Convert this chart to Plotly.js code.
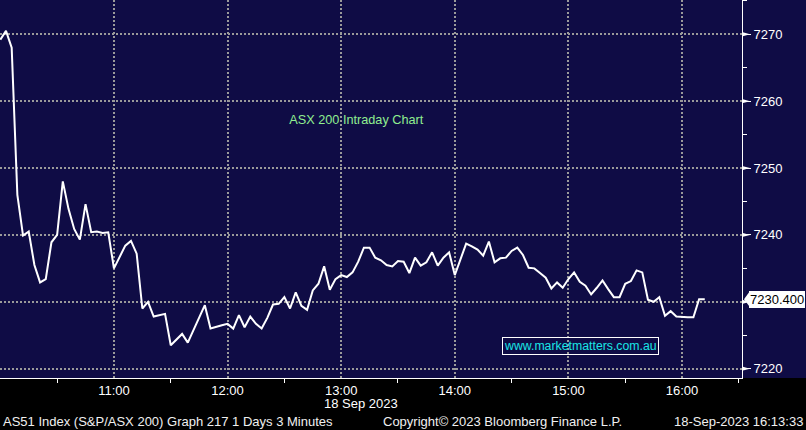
<!DOCTYPE html>
<html>
<head>
<meta charset="utf-8">
<script src="https://cdn.plot.ly/plotly-3.0.1.min.js"></script>
<style>html,body{margin:0;padding:0;background:#000;}#chart{width:806px;height:430px;}</style>
</head>
<body>
<div id="chart"></div>
<script>
// ---- data ----
const sessionDate = "2023-09-18";
const startTime = "10:00";
const barMinutes = 3;
const closeValues = [
  7269.2, 7270.5, 7268.0, 7246.0, 7239.9, 7240.5, 7235.5, 7232.9, 7233.4, 7238.9,
  7240.0, 7248.0, 7243.9, 7240.9, 7239.3, 7244.6, 7240.4, 7240.5, 7240.3, 7240.4,
  7235.0, 7236.8, 7238.4, 7239.1, 7237.2, 7229.0, 7230.0, 7227.8, 7228.0, 7228.2,
  7223.5, 7224.3, 7225.2, 7223.9, 7225.8, 7227.8, 7229.5, 7226.0, 7226.3, 7226.5,
  7226.7, 7226.0, 7228.0, 7226.2, 7227.8, 7226.7, 7226.0, 7227.6, 7229.6, 7229.7,
  7230.7, 7229.0, 7231.4, 7229.4, 7228.8, 7231.7, 7232.7, 7235.3, 7231.8, 7233.4,
  7234.0, 7233.7, 7234.4, 7236.0, 7238.1, 7238.1, 7236.6, 7236.2, 7235.5, 7235.3,
  7236.1, 7236.0, 7234.3, 7236.6, 7235.4, 7235.9, 7237.4, 7235.4, 7236.6, 7237.4,
  7234.0, 7236.5, 7238.7, 7238.3, 7237.8, 7236.9, 7239.0, 7235.9, 7236.5, 7236.6,
  7237.6, 7238.1, 7237.0, 7235.1, 7235.0, 7234.3, 7233.6, 7232.0, 7232.9, 7232.1,
  7233.4, 7234.4, 7233.0, 7232.4, 7231.1, 7232.1, 7233.2, 7231.9, 7230.7, 7230.7,
  7232.7, 7233.1, 7234.7, 7234.4, 7230.3, 7230.0, 7230.7, 7227.9, 7228.6, 7227.8,
  7227.7, 7227.7, 7227.7, 7230.4, 7230.4
];
const lastValueText = "7230.400";
const hourTicks = ["10:00", "11:00", "12:00", "13:00", "14:00", "15:00", "16:00"];
const hourLabels = ["", "11:00", "12:00", "13:00", "14:00", "15:00", "16:00"];
const halfHourTicks = ["10:30", "11:30", "12:30", "13:30", "14:30", "15:30", "16:30"];
const yTicks = [7220, 7230, 7240, 7250, 7260, 7270];
const yTickLabels = ["7220", "7230", "7240", "7250", "7260", "7270"];
const titleText = "ASX 200 Intraday Chart";
const dateLabel = "18 Sep 2023";
const footerLeft = "AS51 Index (S&P/ASX 200) Graph 217 1 Days 3 Minutes";
const footerMid = "Copyright\u00A9 2023 Bloomberg Finance L.P.";
const footerRight = "18-Sep-2023 16:13:33";
const watermark = "www.marketmatters.com.au";

// ---- build ----
function pad(n){return (n<10?"0":"")+n;}
const [sh, sm] = startTime.split(":").map(Number);
const times = closeValues.map((v, i) => {
  const m = sh*60 + sm + i*barMinutes;
  return sessionDate + " " + pad(Math.floor(m/60)) + ":" + pad(m%60) + ":00";
});
const toDate = t => sessionDate + " " + t + ":00";

const W = 806, H = 430, plotW = 742, plotH = 378.3;
const px = x => x / plotW;          // pixel -> paper x
const py = y => (plotH - y) / plotH; // pixel -> paper y

const FONT = "Liberation Sans, Arial, sans-serif";
const GRID = "#9a9a9a";
const NAVY = "#0f0c45";

const lastV = closeValues[closeValues.length-1];
// the last-value flag sits over the nearest tick label, which is hidden by it
const shownYLabels = yTicks.map((v, i) => Math.abs(v - lastV) < 2 ? "" : yTickLabels[i]);

const shapes = [];
// black footer band
shapes.push({type:"rect", xref:"paper", yref:"paper", x0:-0.02, x1:px(W)+0.02, y0:py(H)-0.02, y1:0,
  fillcolor:"#000000", line:{width:0}, layer:"below"});
// arrow markers on right axis
yTicks.forEach(v => {
  shapes.push({type:"path", xref:"paper", yref:"y",
    path:`M 1,${v+0.32} L ${1+8/plotW},${v} L 1,${v-0.32} Z`,
    fillcolor:"#ffffff", line:{width:0}, layer:"above"});
});
// last value pointer
shapes.push({type:"path", xref:"paper", yref:"y",
  path:`M ${1+2/plotW},${lastV} L ${1+8/plotW},${lastV+1.2} L ${1+8/plotW},${lastV-1.2} Z`,
  fillcolor:"#ffffff", line:{width:0}, layer:"above"});

const annotations = [
  {text:lastValueText, xref:"paper", yref:"y", x:1+7/plotW, y:lastV, xanchor:"left", yanchor:"middle",
   showarrow:false, bgcolor:"#ffffff", borderpad:1, borderwidth:0, font:{family:FONT, size:13, color:"#000000"}},
  {text:watermark, xref:"paper", yref:"paper", x:px(580), y:py(346.2), xanchor:"center", yanchor:"middle",
   showarrow:false, bordercolor:"#ffffff", borderwidth:1, borderpad:1, font:{family:FONT, size:12.3, color:"#19e6e6"}},
  {text:dateLabel, xref:"paper", yref:"paper", x:px(323.5), y:py(404), xanchor:"left", yanchor:"middle",
   showarrow:false, borderpad:0, borderwidth:0, font:{family:FONT, size:13, color:"#ffffff"}},
  {text:footerLeft, xref:"paper", yref:"paper", x:px(0.7), y:py(421.7), xanchor:"left", yanchor:"middle",
   showarrow:false, font:{family:FONT, size:13, color:"#f0f0f0"}},
  {text:footerMid, xref:"paper", yref:"paper", x:px(380.7), y:py(421.7), xanchor:"left", yanchor:"middle",
   showarrow:false, font:{family:FONT, size:13, color:"#f0f0f0"}},
  {text:footerRight, xref:"paper", yref:"paper", x:px(805.3), y:py(421.7), xanchor:"right", yanchor:"middle",
   showarrow:false, font:{family:FONT, size:13, color:"#f0f0f0"}}
];

const trace = {
  type:"scatter", mode:"lines", x:times, y:closeValues,
  line:{color:"#ffffff", width:2}, hoverinfo:"skip"
};

const layout = {
  width:W, height:H,
  margin:{l:0, r:W-plotW, t:0, b:H-plotH, pad:0},
  paper_bgcolor:NAVY, plot_bgcolor:NAVY,
  showlegend:false,
  title:{text:titleText, xref:"paper", yref:"paper", x:px(356.3), y:py(119.3), xanchor:"center", yanchor:"middle",
    font:{family:FONT, size:12.7, color:"#90ee90"}},
  xaxis:{
    type:"date",
    range:[sessionDate+" 09:59:50", sessionDate+" 16:31:40"],
    tickmode:"array", tickvals:hourTicks.map(toDate), ticktext:hourLabels,
    ticks:"", showline:true, linecolor:"#ffffff", linewidth:1,
    showgrid:true, gridcolor:GRID, gridwidth:2, griddash:"2px,2px",
    zeroline:false, automargin:false, fixedrange:true,
    tickfont:{family:FONT, size:13, color:"#ffffff"},
    ticklabelstandoff:0,
    minor:{tickmode:"array", tickvals:halfHourTicks.map(toDate), ticks:"outside", ticklen:4, tickcolor:"#ffffff", tickwidth:1, showgrid:false}
  },
  yaxis:{
    side:"right",
    range:[7218.61, 7275.12],
    tickmode:"array", tickvals:yTicks, ticktext:shownYLabels,
    ticks:"outside", ticklen:8, tickcolor:"#ffffff", tickwidth:1,
    showline:true, linecolor:"#ffffff", linewidth:1,
    showgrid:true, gridcolor:GRID, gridwidth:2, griddash:"2px,2px",
    zeroline:false, automargin:false, fixedrange:true,
    tickfont:{family:FONT, size:13, color:"#ffffff"},
    minor:{tick0:7215, dtick:5, ticks:"outside", ticklen:4, tickcolor:"#ffffff", tickwidth:1, showgrid:false}
  },
  shapes:shapes,
  annotations:annotations
};

Plotly.newPlot("chart", [trace], layout, {staticPlot:true, displayModeBar:false});
</script>
</body>
</html>
